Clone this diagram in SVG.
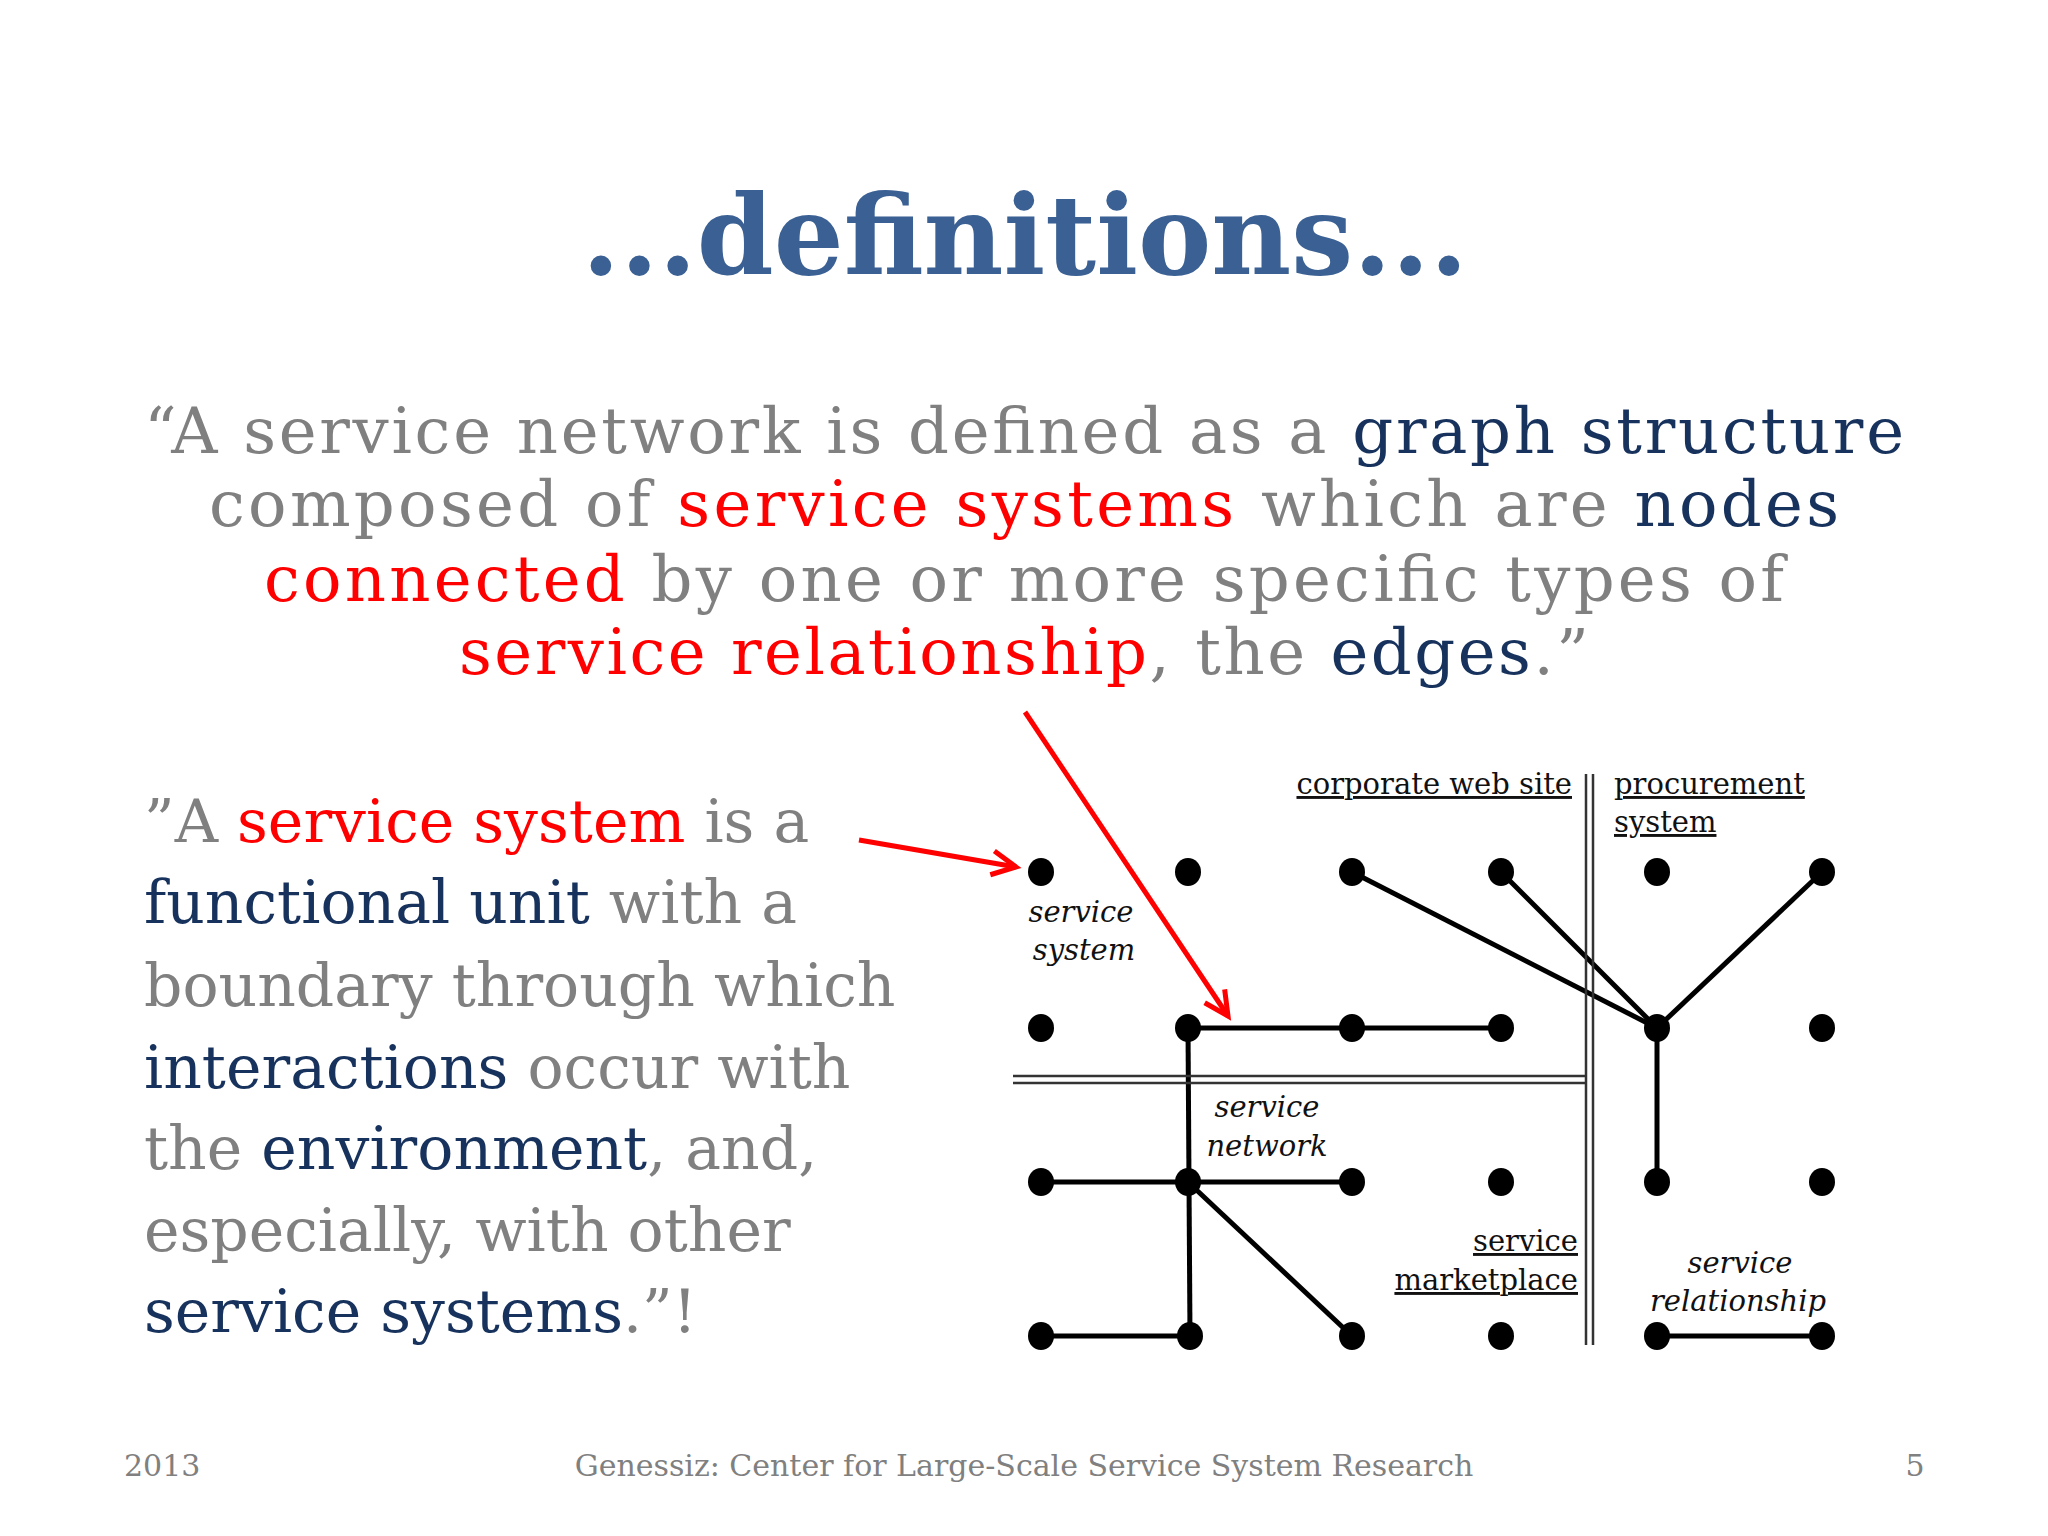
<svg xmlns="http://www.w3.org/2000/svg" width="2048" height="1536" viewBox="0 0 2048 1536">
<style>
.t{font-family:"DejaVu Serif","Liberation Serif",serif}
.g{fill:#808080}.r{fill:#ff0000}.n{fill:#17325c}
.lab{font-family:"DejaVu Serif","Liberation Serif",serif;font-size:29px;fill:#111}
.it{font-style:italic}
.e{stroke:#000;stroke-width:5;fill:none}
.dot{fill:#000}
.red{stroke:#f00;stroke-width:5;fill:none}
</style>
<defs>
<marker id="ah" viewBox="0 0 30 30" refX="28" refY="15" markerWidth="30" markerHeight="30" markerUnits="userSpaceOnUse" orient="auto" style="overflow:visible">
<path d="M4,3 L28,15 L4,27" fill="none" stroke="#f00" stroke-width="5"/>
</marker>
</defs>
<rect width="2048" height="1536" fill="#fff"/>
<text class="t" x="1025" y="274" text-anchor="middle" font-size="110" font-weight="bold" fill="#3a6094">...definitions...</text>
<g class="t" font-size="64" text-anchor="middle">
<text x="1024" y="453" textLength="1760"><tspan class="g">“A service network is defined as a </tspan><tspan class="n">graph structure</tspan></text>
<text x="1024" y="526" textLength="1630"><tspan class="g">composed of </tspan><tspan class="r">service systems</tspan><tspan class="g"> which are </tspan><tspan class="n">nodes</tspan></text>
<text x="1024" y="601" textLength="1520"><tspan class="r">connected</tspan><tspan class="g"> by one or more specific types of</tspan></text>
<text x="1024" y="674" textLength="1130"><tspan class="r">service relationship</tspan><tspan class="g">, the </tspan><tspan class="n">edges</tspan><tspan class="g">.”</tspan></text>
</g>
<g class="t" font-size="60">
<text x="144" y="842"><tspan class="g">”A </tspan><tspan class="r">service system</tspan><tspan class="g"> is a</tspan></text>
<text x="144" y="923"><tspan class="n">functional unit</tspan><tspan class="g"> with a</tspan></text>
<text x="144" y="1006" class="g">boundary through which</text>
<text x="144" y="1088"><tspan class="n">interactions</tspan><tspan class="g"> occur with</tspan></text>
<text x="144" y="1169"><tspan class="g">the </tspan><tspan class="n">environment</tspan><tspan class="g">, and,</tspan></text>
<text x="144" y="1251" class="g">especially, with other</text>
<text x="144" y="1332"><tspan class="n">service systems</tspan><tspan class="g">.”!</tspan></text>
</g>
<g id="connectors">
<line class="e" x1="1352" y1="872" x2="1657" y2="1028"/>
<line class="e" x1="1501" y1="872" x2="1657" y2="1028"/>
<line class="e" x1="1822" y1="872" x2="1657" y2="1028"/>
<line class="e" x1="1657" y1="1028" x2="1657" y2="1182"/>
<line class="e" x1="1188" y1="1028" x2="1501" y2="1028"/>
<line class="e" x1="1188" y1="1028" x2="1190" y2="1336"/>
<line class="e" x1="1041" y1="1182" x2="1352" y2="1182"/>
<line class="e" x1="1188" y1="1182" x2="1352" y2="1336"/>
<line class="e" x1="1041" y1="1336" x2="1190" y2="1336"/>
<line class="e" x1="1657" y1="1336" x2="1822" y2="1336"/>
<path d="M1013,1076H1587M1013,1083H1587M1586,774V1345M1593,774V1345" stroke="#333" stroke-width="2.5" fill="none"/>
<line class="red" x1="859" y1="840" x2="1016" y2="867" marker-end="url(#ah)"/>
<line class="red" x1="1025" y1="712" x2="1228" y2="1016" marker-end="url(#ah)"/>
</g>
<g id="nodes">
<g class="dot">
<ellipse cx="1041" cy="872" rx="13" ry="14"/><ellipse cx="1188" cy="872" rx="13" ry="14"/><ellipse cx="1352" cy="872" rx="13" ry="14"/><ellipse cx="1501" cy="872" rx="13" ry="14"/><ellipse cx="1657" cy="872" rx="13" ry="14"/><ellipse cx="1822" cy="872" rx="13" ry="14"/>
<ellipse cx="1041" cy="1028" rx="13" ry="14"/><ellipse cx="1188" cy="1028" rx="13" ry="14"/><ellipse cx="1352" cy="1028" rx="13" ry="14"/><ellipse cx="1501" cy="1028" rx="13" ry="14"/><ellipse cx="1657" cy="1028" rx="13" ry="14"/><ellipse cx="1822" cy="1028" rx="13" ry="14"/>
<ellipse cx="1041" cy="1182" rx="13" ry="14"/><ellipse cx="1188" cy="1182" rx="13" ry="14"/><ellipse cx="1352" cy="1182" rx="13" ry="14"/><ellipse cx="1501" cy="1182" rx="13" ry="14"/><ellipse cx="1657" cy="1182" rx="13" ry="14"/><ellipse cx="1822" cy="1182" rx="13" ry="14"/>
<ellipse cx="1041" cy="1336" rx="13" ry="14"/><ellipse cx="1190" cy="1336" rx="13" ry="14"/><ellipse cx="1352" cy="1336" rx="13" ry="14"/><ellipse cx="1501" cy="1336" rx="13" ry="14"/><ellipse cx="1657" cy="1336" rx="13" ry="14"/><ellipse cx="1822" cy="1336" rx="13" ry="14"/>
</g>
</g>
<g id="labels">
<text class="lab" x="1572" y="794" text-anchor="end" text-decoration="underline">corporate web site</text>
<text class="lab" x="1614" y="794" text-decoration="underline">procurement</text>
<text class="lab" x="1614" y="832" text-decoration="underline">system</text>
<text class="lab it" x="1081" y="922" text-anchor="middle">service</text>
<text class="lab it" x="1084" y="960" text-anchor="middle">system</text>
<text class="lab it" x="1267" y="1117" text-anchor="middle">service</text>
<text class="lab it" x="1267" y="1156" text-anchor="middle">network</text>
<text class="lab" x="1578" y="1251" text-anchor="end" text-decoration="underline">service </text>
<text class="lab" x="1578" y="1290" text-anchor="end" text-decoration="underline">marketplace</text>
<text class="lab it" x="1740" y="1273" text-anchor="middle">service</text>
<text class="lab it" x="1738" y="1311" text-anchor="middle">relationship</text>
</g>
<g class="t" font-size="30" fill="#808080">
<text x="124" y="1476">2013</text>
<text x="1024" y="1476" text-anchor="middle">Genessiz: Center for Large-Scale Service System Research</text>
<text x="1915" y="1476" text-anchor="middle">5</text>
</g>
</svg>
